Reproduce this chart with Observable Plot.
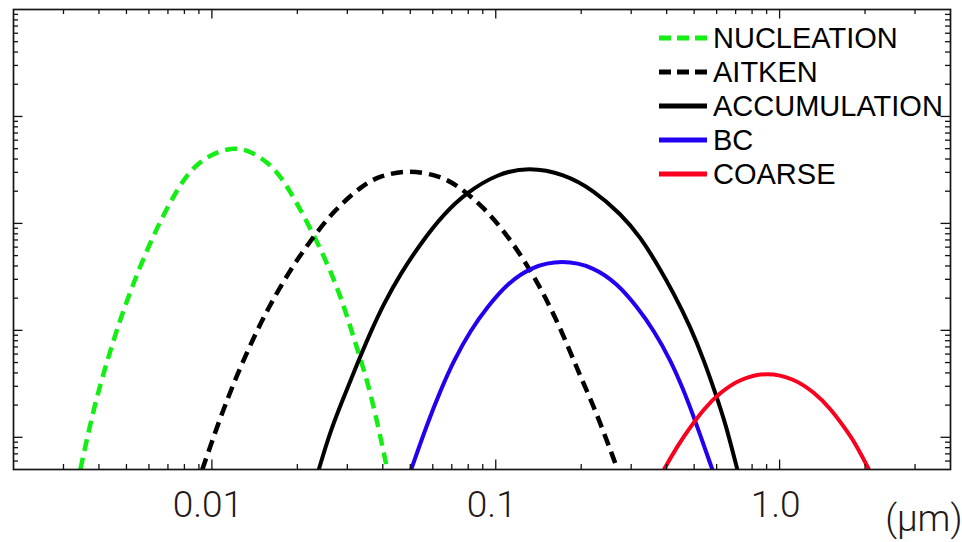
<!DOCTYPE html>
<html>
<head>
<meta charset="utf-8">
<script src="https://cdn.jsdelivr.net/npm/d3@7"></script>
<script src="https://cdn.jsdelivr.net/npm/@observablehq/plot@0.6"></script>
<style>
  html, body { margin: 0; padding: 0; background: #fff; overflow: hidden; }
  #wrap { position: relative; width: 962px; height: 542px; }
  #legend { position: absolute; left: 659px; top: 21px; font-family: "Liberation Sans", Arial, sans-serif; font-size: 29px; color: #000; }
  .row { display: flex; align-items: center; height: 34px; line-height: 34px; white-space: nowrap; }
  .row svg { display: block; margin-right: 6px; }
</style>
</head>
<body>
<div id="wrap"><div id="legend"></div></div>
<script>
// ---- data: particle diameter (µm) vs. size distribution (arbitrary units)
const nucleation = [
  [0.00344, 0.5], [0.00384, 1.92], [0.00428, 5.24], [0.00476, 12.9], [0.00531, 28.3],
  [0.00600, 62.3], [0.00686, 132], [0.00796, 262], [0.00888, 361], [0.01016, 454],
  [0.01194, 517], [0.01368, 474], [0.01566, 374], [0.01745, 281], [0.02051, 137],
  [0.02514, 46.8], [0.02878, 19.1], [0.03206, 7.51], [0.03622, 2.75], [0.04148, 0.5]
];
const aitken = [
  [0.00925, 0.5], [0.01072, 1.55], [0.01211, 3.54], [0.01387, 8.06], [0.01586, 16.5],
  [0.01866, 35.1], [0.02225, 69.3], [0.02690, 132], [0.03385, 227], [0.03926, 281],
  [0.04970, 316], [0.06223, 281], [0.07217, 235], [0.09085, 142], [0.1112, 74.5],
  [0.1326, 36.4], [0.1538, 17.8], [0.1762, 8.06], [0.1990, 3.66], [0.2248, 1.79], [0.2687, 0.5]
];
const accumulation = [
  [0.02380, 0.5], [0.02618, 1.16], [0.02916, 2.38], [0.03251, 4.88], [0.03622, 9.64],
  [0.04034, 17.8], [0.04620, 33.9], [0.05430, 64.6], [0.06561, 123], [0.07937, 196],
  [0.1012, 291], [0.1308, 336], [0.1738, 291], [0.2217, 203], [0.2753, 123],
  [0.3236, 74.5], [0.3757, 39.1], [0.4244, 22.0], [0.4856, 10.7], [0.5413, 5.24],
  [0.5948, 2.56], [0.6454, 1.34], [0.7096, 0.5]
];
const bc = [
  [0.05036, 0.5], [0.05738, 1.34], [0.06390, 2.75], [0.07118, 5.24], [0.08150, 10.0],
  [0.09333, 16.5], [0.1098, 27.3], [0.1326, 39.1], [0.1716, 45.8], [0.2217, 39.1],
  [0.2681, 27.3], [0.3152, 16.5], [0.3606, 10.0], [0.4130, 5.24], [0.4541, 2.95],
  [0.4990, 1.55], [0.5794, 0.5]
];
const coarse = [
  [0.3911, 0.5], [0.4418, 0.873], [0.4856, 1.25], [0.5413, 1.85], [0.6197, 2.65],
  [0.7288, 3.54], [0.9050, 4.08], [1.123, 3.54], [1.321, 2.65], [1.513, 1.85],
  [1.686, 1.25], [1.853, 0.873], [2.064, 0.5]
];

const seriesNames = ["NUCLEATION", "AITKEN", "ACCUMULATION", "BC", "COARSE"];
const seriesData = [nucleation, aitken, accumulation, bc, coarse];

// axis values
const xDomain = [0.002, 4];
const yDomain = [0.5, 10000];
const xMajorTicks = [0.01, 0.1, 1];
const xMinorTicks = [0.003, 0.004, 0.005, 0.006, 0.007, 0.008, 0.009,
                     0.02, 0.03, 0.04, 0.05, 0.06, 0.07, 0.08, 0.09,
                     0.2, 0.3, 0.4, 0.5, 0.6, 0.7, 0.8, 0.9, 2, 3];
const yMajorTicks = [1, 10, 100, 1000];
const yMinorTicks = [0.6, 0.7, 0.8, 0.9,
                     2, 3, 4, 5, 6, 7, 8, 9,
                     20, 30, 40, 50, 60, 70, 80, 90,
                     200, 300, 400, 500, 600, 700, 800, 900,
                     2000, 3000, 4000, 5000, 6000, 7000, 8000, 9000];
const xTickLabels = ["0.01", "0.1", "1.0"];
const unitLabel = "(μm)";

// ---- styles
const styles = [
  {stroke: "#14ee14", dash: "12,7", width: 4.5},
  {stroke: "#000000", dash: "12,7", width: 4.5},
  {stroke: "#000000", dash: null, width: 4},
  {stroke: "#2200f0", dash: null, width: 4},
  {stroke: "#f8001e", dash: null, width: 4}
];

const W = 962, H = 542;
const M = {top: 9, right: 12, bottom: 73, left: 13};
const innerW = W - M.left - M.right;
const innerH = H - M.top - M.bottom;
const majorLen = 9.5, minorLen = 5;
const labelFont = "Roboto, 'Open Sans', sans-serif";

const marks = [];
seriesData.forEach((data, i) => {
  const s = styles[i];
  marks.push(Plot.line(data, {
    x: d => d[0], y: d => d[1],
    stroke: s.stroke, strokeWidth: s.width,
    strokeDasharray: s.dash ?? undefined,
    strokeLinecap: "butt", strokeLinejoin: "round",
    curve: "basis", clip: true
  }));
});

// ticks (inward, on all four sides)
const tickStyle = {stroke: "#111", strokeWidth: 1.3};
marks.push(
  Plot.ruleX(xMajorTicks, {x: d => d, insetTop: innerH - majorLen, ...tickStyle}),
  Plot.ruleX(xMinorTicks, {x: d => d, insetTop: innerH - minorLen, ...tickStyle}),
  Plot.ruleX(xMajorTicks, {x: d => d, insetBottom: innerH - majorLen, ...tickStyle}),
  Plot.ruleX(xMinorTicks, {x: d => d, insetBottom: innerH - minorLen, ...tickStyle}),
  Plot.ruleY(yMajorTicks, {y: d => d, insetRight: innerW - majorLen, ...tickStyle}),
  Plot.ruleY(yMinorTicks, {y: d => d, insetRight: innerW - minorLen, ...tickStyle}),
  Plot.ruleY(yMajorTicks, {y: d => d, insetLeft: innerW - majorLen, ...tickStyle}),
  Plot.ruleY(yMinorTicks, {y: d => d, insetLeft: innerW - minorLen, ...tickStyle}),
  Plot.frame({stroke: "#151515", strokeWidth: 1.7}),
  Plot.text(xMajorTicks, {
    x: d => d, text: (d, i) => xTickLabels[i],
    frameAnchor: "bottom", lineAnchor: "bottom", dy: 47, dx: -4,
    fontSize: 37, fontWeight: 300, fontFamily: labelFont, fill: "#231815"
  }),
  Plot.text([unitLabel], {
    text: d => d, frameAnchor: "bottom-right", lineAnchor: "bottom", textAnchor: "end",
    dx: 12, dy: 61, fontSize: 37, fontWeight: 300, fontFamily: labelFont, fill: "#231815"
  })
);

const chart = Plot.plot({
  width: W, height: H,
  marginTop: M.top, marginRight: M.right, marginBottom: M.bottom, marginLeft: M.left,
  x: {type: "log", domain: xDomain, axis: null},
  y: {type: "log", domain: yDomain, axis: null},
  style: {background: "#fff", overflow: "visible"},
  marks
});
const wrap = document.getElementById("wrap");
wrap.insertBefore(chart, wrap.firstChild);

// legend overlay
const legend = document.getElementById("legend");
seriesNames.forEach((name, i) => {
  const s = styles[i];
  const row = document.createElement("div");
  row.className = "row";
  const svg = d3.create("svg").attr("width", 48).attr("height", 10);
  svg.append("line").attr("x1", 0).attr("x2", 48).attr("y1", 5).attr("y2", 5)
    .attr("stroke", s.stroke).attr("stroke-width", 5)
    .attr("stroke-dasharray", s.dash ? "12,6" : null);
  row.appendChild(svg.node());
  const span = document.createElement("span");
  span.textContent = name;
  row.appendChild(span);
  legend.appendChild(row);
});
</script>
</body>
</html>
